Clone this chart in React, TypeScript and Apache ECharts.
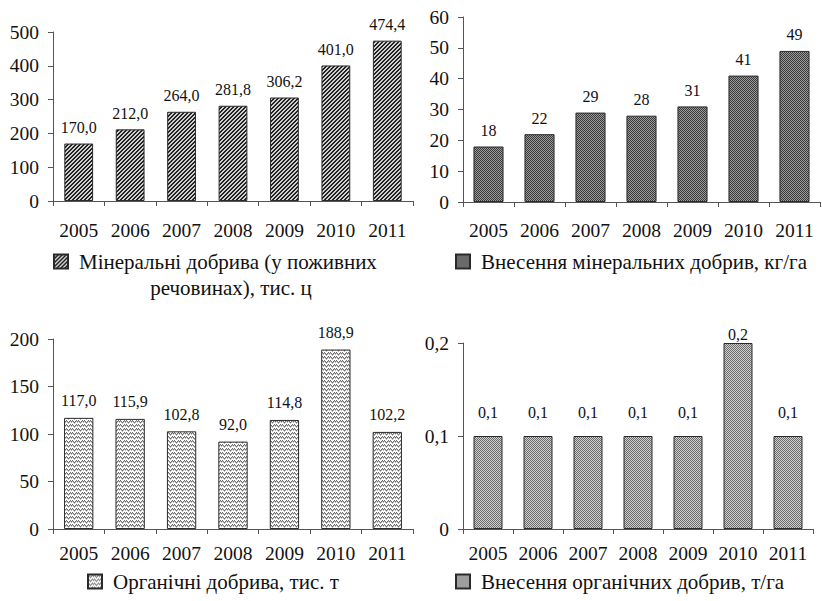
import React, { useEffect, useRef } from "react";
import * as echarts from "echarts";

const years = ["2005", "2006", "2007", "2008", "2009", "2010", "2011"];
const mineral = [170.0, 212.0, 264.0, 281.8, 306.2, 401.0, 474.4];
const mineralRate = [18, 22, 29, 28, 31, 41, 49];
const organic = [117.0, 115.9, 102.8, 92.0, 114.8, 188.9, 102.2];
const organicRate = [0.1, 0.1, 0.1, 0.1, 0.1, 0.2, 0.1];

const names = [
  "Мінеральні добрива (у поживних речовинах), тис. ц",
  "Внесення мінеральних добрив, кг/га",
  "Органічні добрива, тис. т",
  "Внесення органічних добрив, т/га",
];

const FONT = "'Liberation Serif', 'DejaVu Serif', serif";

function makePattern(kind: number): HTMLCanvasElement {
  const c = document.createElement("canvas");
  const ctx = c.getContext("2d")!;
  if (kind === 0) {
    c.width = 4;
    c.height = 4;
    ctx.fillStyle = "#d0d0d0";
    ctx.fillRect(0, 0, 4, 4);
    ctx.fillStyle = "#222222";
    for (let i = 0; i < 4; i++) {
      ctx.fillRect((3 - i + 4) % 4, i, 1, 1);
      ctx.fillRect((4 - i + 4) % 4, i, 1, 1);
    }
  } else if (kind === 1) {
    c.width = 2;
    c.height = 2;
    ctx.fillStyle = "#9a9a9a";
    ctx.fillRect(0, 0, 2, 2);
    ctx.fillStyle = "#3a3a3a";
    ctx.fillRect(0, 0, 1, 1);
    ctx.fillRect(1, 1, 1, 1);
  } else if (kind === 2) {
    c.width = 6;
    c.height = 4;
    ctx.fillStyle = "#ffffff";
    ctx.fillRect(0, 0, 6, 4);
    ctx.fillStyle = "#707070";
    const pts = [
      [0, 0],
      [1, 1],
      [2, 2],
      [3, 1],
      [4, 0],
      [5, 1],
    ];
    pts.forEach(([x, y]) => ctx.fillRect(x, y, 1, 1));
    ctx.fillStyle = "#b8b8b8";
    pts.forEach(([x, y]) => ctx.fillRect(x, (y + 1) % 4, 1, 1));
  } else {
    c.width = 2;
    c.height = 2;
    ctx.fillStyle = "#d0d0d0";
    ctx.fillRect(0, 0, 2, 2);
    ctx.fillStyle = "#6a6a6a";
    ctx.fillRect(0, 0, 1, 1);
    ctx.fillRect(1, 1, 1, 1);
  }
  return c;
}

const comma = (v: number, d: number) => v.toFixed(d).replace(".", ",");

export default function App() {
  const ref = useRef<HTMLDivElement>(null);
  useEffect(() => {
    document.body.style.margin = "0";
    const chart = echarts.init(ref.current!, null, { renderer: "svg" });
    const patterns = [0, 1, 2, 3].map((k) => ({
      image: makePattern(k),
      repeat: "repeat",
    }));

    const grids = [
      { left: 53, top: 32, width: 360, height: 169 },
      { left: 463, top: 17, width: 357, height: 185 },
      { left: 53, top: 339, width: 360, height: 190 },
      { left: 463, top: 343, width: 350, height: 186 },
    ];
    const yDefs = [
      { max: 500, interval: 100, fmt: (v: number) => String(v) },
      { max: 60, interval: 10, fmt: (v: number) => String(v) },
      { max: 200, interval: 50, fmt: (v: number) => String(v) },
      {
        max: 0.2,
        interval: 0.1,
        fmt: (v: number) => (v === 0 ? "0" : comma(v, 1)),
      },
    ];
    const xMargins = [19, 18, 14, 14];
    const dataSets = [mineral, mineralRate, organic, organicRate];
    const labelFmts = [
      (v: number) => comma(v, 1),
      (v: number) => String(v),
      (v: number) => comma(v, 1),
      (v: number) => comma(v, 1),
    ];
    const barWidths = ["56%", "59%", "57%", "58%"];
    const labelDist = [8, 8, 9, 16];

    const axisColor = "#555";

    chart.setOption({
      animation: false,
      backgroundColor: "#ffffff",
      grid: grids.map((g) => ({ ...g, containLabel: false })),
      xAxis: grids.map((_, i) => ({
        type: "category",
        gridIndex: i,
        data: years,
        axisLine: { lineStyle: { color: axisColor, width: 1 } },
        axisTick: {
          show: true,
          alignWithLabel: false,
          length: 5,
          lineStyle: { color: axisColor },
        },
        axisLabel: {
          interval: 0,
          margin: xMargins[i],
          fontFamily: FONT,
          fontSize: 19.5,
          color: "#111",
        },
      })),
      yAxis: yDefs.map((d, i) => ({
        type: "value",
        gridIndex: i,
        min: 0,
        max: d.max,
        interval: d.interval,
        splitLine: { show: false },
        axisLine: { show: true, lineStyle: { color: axisColor, width: 1 } },
        axisTick: { show: true, length: 5, lineStyle: { color: axisColor } },
        axisLabel: {
          margin: 14,
          fontFamily: FONT,
          fontSize: 19.5,
          color: "#111",
          formatter: d.fmt,
        },
      })),
      legend: [
        { left: 53, top: 251 },
        { left: 455, top: 251 },
        { left: 87, top: 571 },
        { left: 455, top: 571 },
      ].map((p, i) => ({
        ...p,
        padding: 0,
        data: [names[i]],
        icon: "rect",
        itemWidth: 14,
        itemHeight: 14,
        selectedMode: false,
        formatter: i === 0 ? () => "Мінеральні добрива (у поживних" : undefined,
        textStyle: {
          fontFamily: FONT,
          fontSize: 21,
          color: "#111",
          padding: [0, 0, 0, 6],
        },
      })),
      graphic: [
        {
          type: "text",
          x: 231,
          y: 288,
          style: {
            text: "речовинах), тис. ц",
            fontFamily: FONT,
            fontSize: 21,
            fill: "#111",
            textAlign: "center",
            textVerticalAlign: "middle",
          },
        },
      ],
      series: dataSets.map((data, i) => ({
        type: "bar",
        name: names[i],
        xAxisIndex: i,
        yAxisIndex: i,
        data: data.map((v, j) =>
          i === 3 && j === 5 ? { value: v, label: { distance: 1 } } : v
        ),
        barWidth: barWidths[i],
        itemStyle: {
          color: patterns[i],
          borderColor: "#2a2a2a",
          borderWidth: 1,
        },
        label: {
          show: true,
          position: "top",
          distance: labelDist[i],
          fontFamily: FONT,
          fontSize: 16,
          color: "#111",
          formatter: (p: any) => labelFmts[i](p.value),
        },
      })),
    });
    return () => chart.dispose();
  }, []);
  return <div ref={ref} style={{ width: 822, height: 601 }} />;
}
